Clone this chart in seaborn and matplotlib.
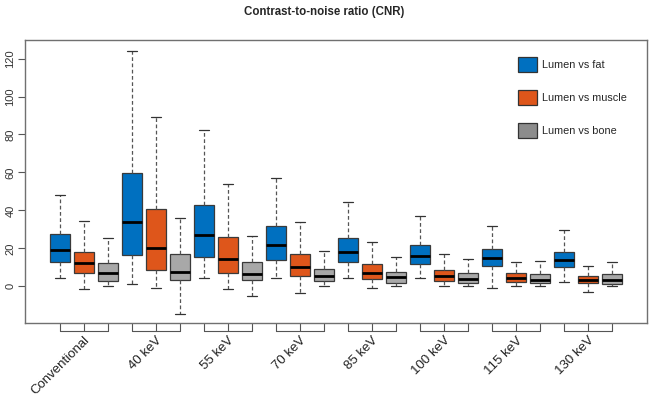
import matplotlib
matplotlib.use("Agg")
import matplotlib.pyplot as plt
import matplotlib.transforms as mtransforms
from matplotlib.patches import Patch
import pandas as pd
import seaborn as sns
import numpy as np

groups = ["Conventional", "40 keV", "55 keV", "70 keV", "85 keV", "100 keV", "115 keV", "130 keV"]
series = ["Lumen vs fat", "Lumen vs muscle", "Lumen vs bone"]

# five-number summaries (lower whisker, Q1, median, Q3, upper whisker)
fat = [
    [4.4, 12.8, 19.3, 27.4, 48.0],
    [1.4, 16.7, 33.9, 59.9, 124.2],
    [4.4, 15.6, 27.2, 42.9, 82.6],
    [4.4, 14.0, 21.8, 32.0, 57.3],
    [4.4, 12.6, 18.1, 25.5, 44.4],
    [4.4, 11.6, 16.1, 21.9, 37.1],
    [-0.9, 10.7, 14.8, 19.5, 31.6],
    [2.1, 10.2, 13.7, 18.1, 29.7],
]
muscle = [
    [-1.6, 6.8, 12.3, 18.2, 34.3],
    [-0.9, 8.6, 20.0, 40.6, 89.1],
    [-1.6, 6.8, 14.4, 26.0, 53.8],
    [-3.7, 5.3, 10.0, 16.9, 34.1],
    [-1.1, 3.8, 7.2, 11.8, 23.4],
    [0.0, 3.0, 5.6, 8.8, 16.9],
    [0.2, 2.4, 4.5, 6.9, 13.0],
    [-3.0, 1.9, 3.5, 5.6, 10.9],
]
bone = [
    [0.0, 2.8, 7.0, 12.1, 25.3],
    [-14.4, 3.3, 7.5, 16.9, 36.0],
    [-5.1, 3.3, 6.7, 12.6, 26.4],
    [0.0, 2.8, 5.6, 9.0, 18.6],
    [0.0, 1.7, 4.7, 7.4, 15.6],
    [0.0, 1.6, 3.7, 6.9, 14.2],
    [0.2, 1.6, 3.3, 6.3, 13.5],
    [0.2, 1.4, 3.3, 6.3, 12.8],
]

box_colors = ["#0070C0", "#DE561B", "#A8A8A8"]
legend_colors = ["#0070C0", "#DE561B", "#8C8C8C"]

rows = []
for name, summaries in zip(series, [fat, muscle, bone]):
    for g, vals in zip(groups, summaries):
        for v in vals:
            rows.append({"group": g, "series": name, "value": v})
df = pd.DataFrame(rows)

sns.set_style("white")
plt.rcParams["font.family"] = ["Liberation Sans", "DejaVu Sans"]

fig = plt.figure(figsize=(6.49, 4.0), dpi=100)
ax = fig.add_axes([25 / 649, 1 - 323.3 / 400, 621.7 / 649, 283.3 / 400])

sns.boxplot(data=df, x="group", y="value", hue="series", order=groups, hue_order=series,
            palette=box_colors, saturation=1, width=1.0, gap=1 / 6, whis=(0, 100),
            linecolor="#3a3a3a", linewidth=0.9, legend=False, ax=ax,
            medianprops={"color": "black", "linewidth": 2.0},
            whiskerprops={"linestyle": (0, (3, 2)), "color": "#555555", "linewidth": 0.9},
            capprops={"color": "#333333", "linewidth": 0.9})

ax.set_xlim(-0.819, 7.815)
ax.set_ylim(-19.5, 129.8)
ax.set_xlabel("")
ax.set_ylabel("")

for s in ax.spines.values():
    s.set_visible(True)
    s.set_color("#707070")
    s.set_linewidth(1.0)

ax.set_yticks(range(0, 121, 20))
ax.tick_params(axis="y", direction="out", length=5, width=0.8, color="#555555",
               labelsize=8, labelcolor="#333333", pad=2, left=True)
for lab in ax.get_yticklabels():
    lab.set_rotation(90)
    lab.set_va("center")

# group brackets under the axis, R style
ax.set_xticks(range(len(groups)))
ax.set_xticklabels(groups, rotation=45, ha="right", rotation_mode="anchor", fontsize=9.5, color="#222222")
ax.tick_params(axis="x", length=0, pad=8)
trans = mtransforms.blended_transform_factory(ax.transData, ax.transAxes)
drop = 8 / 283.3
for i in range(len(groups)):
    left, right = i - 1 / 3, i + 1 / 3
    ax.plot([left, right], [-drop, -drop], transform=trans, color="#555555", lw=0.8, clip_on=False)
    for xx in (left, i, right):
        ax.plot([xx, xx], [0, -drop], transform=trans, color="#555555", lw=0.8, clip_on=False)

handles = [Patch(facecolor=c, edgecolor="#333333", linewidth=0.9) for c in legend_colors]
ax.legend(handles, series, loc="upper left", bbox_to_anchor=((513 - 25) / 621.7, 1 - 11.5 / 283.3),
          frameon=False, borderpad=0, fontsize=7.8, handlelength=1.75, handleheight=1.75,
          labelspacing=1.65, handletextpad=0.45)

fig.suptitle("Contrast-to-noise ratio (CNR)", x=0.5, y=0.985, fontsize=8.3, fontweight="bold")

fig.savefig("out.png", dpi=100)
